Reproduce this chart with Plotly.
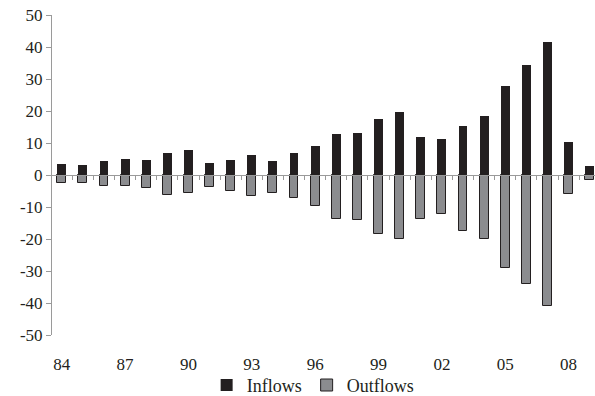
import plotly.graph_objects as go

years = list(range(1984, 2010))
tick_years = [1984, 1987, 1990, 1993, 1996, 1999, 2002, 2005, 2008]
tick_labels = ["84", "87", "90", "93", "96", "99", "02", "05", "08"]
inflows = [3.5, 3.1, 4.3, 5.1, 4.6, 7.0, 7.9, 3.9, 4.7, 6.3, 4.3, 7.0, 9.0,
           12.8, 13.2, 17.5, 19.8, 11.9, 11.1, 15.3, 18.4, 27.7, 34.3, 41.7, 10.2, 2.7]
outflows = [-2.6, -2.4, -3.4, -3.4, -4.2, -6.2, -5.7, -3.6, -4.9, -6.6, -5.7, -7.3, -9.8,
            -13.9, -14.2, -18.5, -20.1, -13.8, -12.2, -17.6, -20.1, -29.2, -34.1, -40.8, -6.0, -1.6]
y_ticks = list(range(-50, 51, 10))

font = dict(family="Liberation Serif, Times New Roman, serif", size=17, color="#231f20")
legend_font = dict(family="Liberation Serif, Times New Roman, serif", size=18, color="#231f20")
axis_grey = "#9a9a9a"

fig = go.Figure()
fig.add_trace(go.Bar(x=years, y=inflows, name="Inflows", width=0.42,
                     marker=dict(color="#231f20", line=dict(width=0))))
fig.add_trace(go.Bar(x=years, y=outflows, name="Outflows", width=0.42,
                     marker=dict(color="#8b8c8f", line=dict(color="#231f20", width=1))))
# invisible trace to host the zero-line axis
fig.add_trace(go.Scatter(x=[years[0]], y=[0], xaxis="x2", mode="markers",
                         marker=dict(opacity=0), showlegend=False, hoverinfo="skip"))

xr = [1983.54, 2009.25]
fig.update_layout(
    width=595, height=396,
    margin=dict(l=52, r=0, t=15, b=61, autoexpand=False),
    paper_bgcolor="white", plot_bgcolor="white",
    barmode="relative", bargap=0,
    font=font,
    showlegend=True,
    legend=dict(orientation="h", x=0.48, xanchor="center",
                yref="container", y=0.027, yanchor="middle",
                font=legend_font, itemwidth=30, tracegroupgap=0,
                bgcolor="rgba(0,0,0,0)"),
    xaxis=dict(range=xr, tickmode="array", tickvals=tick_years, ticktext=tick_labels,
               showline=False, ticks="", showgrid=False, zeroline=False,
               ticklabelstandoff=17),
    xaxis2=dict(range=xr, overlaying="x", anchor="free", position=0.5,
                showline=True, linecolor=axis_grey, linewidth=1,
                tickmode="array", tickvals=[y + 0.5 for y in years[:-1]],
                ticks="outside", ticklen=4, tickcolor=axis_grey, tickwidth=1,
                showticklabels=False, showgrid=False, zeroline=False),
    yaxis=dict(range=[-50, 50], tickmode="array", tickvals=y_ticks,
               ticktext=[str(v) for v in y_ticks],
               showline=True, linecolor=axis_grey, linewidth=1,
               ticks="outside", ticklen=5, tickcolor=axis_grey,
               showgrid=False, zeroline=False),
)

fig.write_html("out.html", config={"displayModeBar": False},
               post_script="document.body.style.margin='0';")
